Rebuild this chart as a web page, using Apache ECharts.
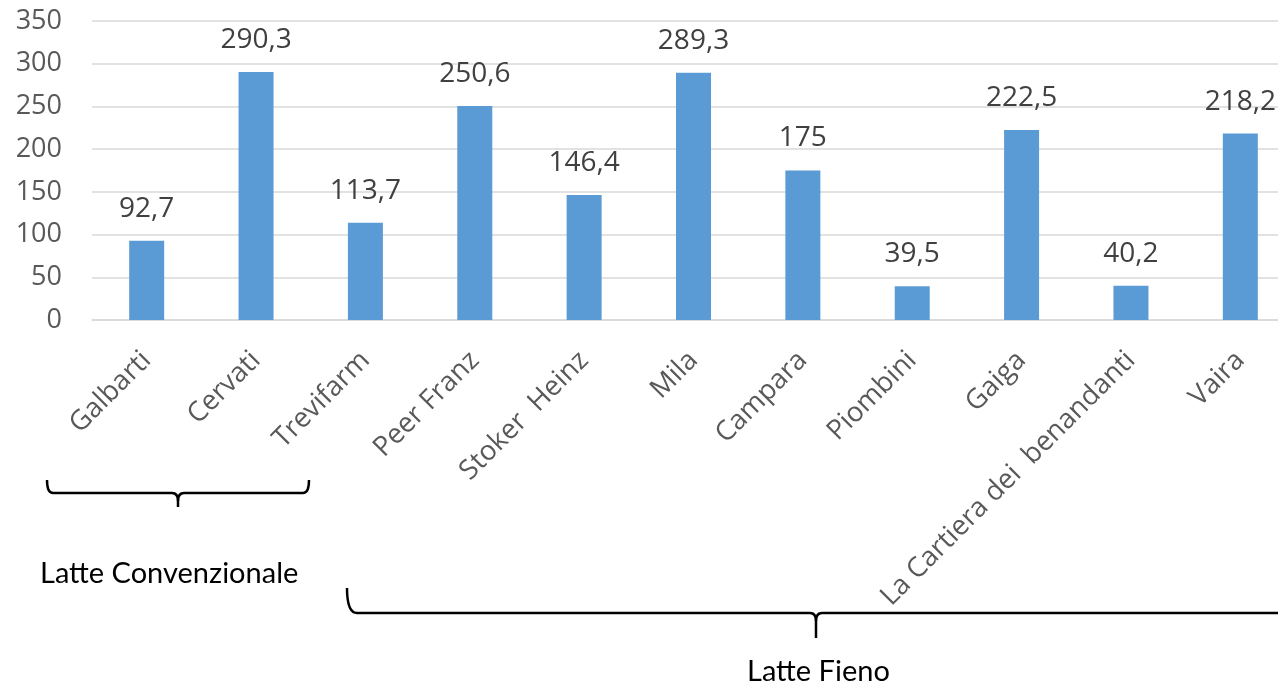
<!DOCTYPE html>
<html>
<head>
<meta charset="utf-8">
<script src="https://cdn.jsdelivr.net/npm/echarts@6/dist/echarts.min.js"></script>
<style>
html,body{margin:0;padding:0;background:#fff;overflow:hidden;width:1278px;height:685px;}
#main{width:1295px;height:685px;}
</style>
</head>
<body>
<div id="main"></div>
<script>
var categories = ['Galbarti','Cervati','Trevifarm','Peer Franz','Stoker  Heinz','Mila','Campara','Piombini','Gaiga','La Cartiera dei  benandanti','Vaira'];
var values = [92.7, 290.3, 113.7, 250.6, 146.4, 289.3, 175, 39.5, 222.5, 40.2, 218.2];
var yTicks = [0, 50, 100, 150, 200, 250, 300, 350];
var groupLabels = ['Latte Convenzionale', 'Latte Fieno'];

// Curly-bracket annotation: ends (x0, x1), top of the arms, line y, cusp x and cusp bottom
function bracket(x0, x1, yTop, yLine, cx, yCusp, r) {
  var st = {fill: null, stroke: '#000', lineWidth: 2.5};
  var els = [];
  els.push({type: 'bezierCurve', shape: {x1: x0, y1: yTop, cpx1: x0, cpy1: yLine, x2: x0 + r, y2: yLine}, style: st});
  els.push({type: 'line', shape: {x1: x0 + r, y1: yLine, x2: cx - 6, y2: yLine}, style: st});
  els.push({type: 'bezierCurve', shape: {x1: cx - 6, y1: yLine, cpx1: cx, cpy1: yLine, x2: cx, y2: yLine + 8}, style: st});
  els.push({type: 'line', shape: {x1: cx, y1: yLine + 8, x2: cx, y2: yCusp}, style: st});
  els.push({type: 'bezierCurve', shape: {x1: cx + 6, y1: yLine, cpx1: cx, cpy1: yLine, x2: cx, y2: yLine + 8}, style: st});
  if (x1 > 1278) {
    els.push({type: 'line', shape: {x1: cx + 6, y1: yLine, x2: x1, y2: yLine}, style: st});
  } else {
    els.push({type: 'line', shape: {x1: cx + 6, y1: yLine, x2: x1 - r, y2: yLine}, style: st});
    els.push({type: 'bezierCurve', shape: {x1: x1 - r, y1: yLine, cpx1: x1, cpy1: yLine, x2: x1, y2: yTop}, style: st});
  }
  return els;
}

var chart = echarts.init(document.getElementById('main'), null, {renderer: 'canvas'});
var graphics = [].concat(
  bracket(47, 309, 480, 493, 178, 507, 6),
  bracket(347, 1300, 588, 613, 816, 638, 10),
  [
    {type: 'text', left: 40, top: 559, style: {text: groupLabels[0], fill: '#000', font: '29px Lato'}},
    {type: 'text', left: 747, top: 657, style: {text: groupLabels[1], fill: '#000', font: '29px Lato'}}
  ]
);
var option = {
  backgroundColor: '#ffffff',
  animation: false,
  grid: {left: 92, right: 0, top: 21, bottom: 365, containLabel: false},
  xAxis: {
    type: 'category',
    data: categories,
    axisLine: {show: true, lineStyle: {color: '#d9d9d9', width: 1.5}},
    axisTick: {show: false},
    splitLine: {show: false},
    axisLabel: {
      interval: 0,
      rotate: 45,
      margin: 36,
      padding: [75, 0, 0, 0],
      color: '#595959',
      fontFamily: 'Open Sans',
      fontSize: 27.5,
      hideOverlap: false
    }
  },
  yAxis: {
    type: 'value',
    min: yTicks[0],
    max: yTicks[yTicks.length - 1],
    interval: 50,
    axisLine: {show: false},
    axisTick: {show: false},
    splitLine: {show: true, lineStyle: {color: '#d9d9d9', width: 1.5}},
    axisLabel: {
      margin: 30,
      color: '#595959',
      fontFamily: 'Open Sans',
      fontSize: 27
    }
  },
  series: [{
    type: 'bar',
    data: values,
    barWidth: 35,
    itemStyle: {color: '#5b9bd5'},
    label: {
      show: true,
      position: 'top',
      distance: 18,
      color: '#404040',
      fontFamily: 'Open Sans',
      fontSize: 28,
      lineHeight: 28,
      formatter: function (p) { return String(p.value).replace('.', ','); }
    }
  }],
  graphic: graphics
};
chart.setOption(option);
</script>
</body>
</html>
